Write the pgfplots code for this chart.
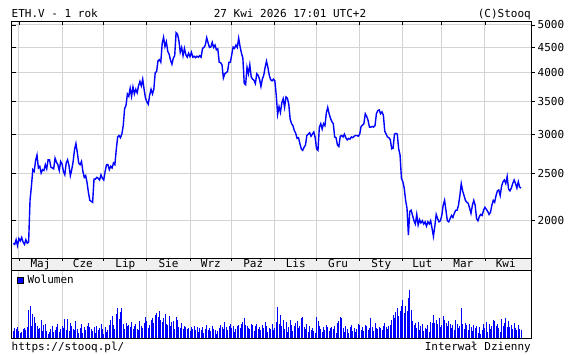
\documentclass[border=0pt]{standalone}
\usepackage{pgfplots}
\pgfplotsset{compat=1.18}
\usepackage{pgfplotstable}
\usepackage{fontspec}
\setmainfont{DejaVu Sans Mono}
\definecolor{gridgray}{RGB}{211,211,211}
\definecolor{stblue}{RGB}{0,0,255}
\definecolor{strip}{RGB}{240,240,240}
\newcommand\fs{\fontsize{11}{13}\selectfont}

\pgfplotstableread[row sep=\\]{d p\\
-4 1800\\ -3 1790\\ -2 1830\\ -1 1780\\ 0 1840\\ 1 1820\\ 2 1850\\ 3 1810\\ 4 1790\\ 5 1830\\ 6 1800\\ 7 1810\\
8 2200\\ 9 2350\\ 10 2540\\ 11 2520\\ 12 2650\\ 13 2720\\ 14 2560\\ 15 2580\\ 16 2500\\ 17 2540\\ 18 2530\\ 19 2600\\
20 2550\\ 21 2660\\ 22 2660\\ 23 2570\\ 24 2560\\ 25 2550\\ 26 2680\\ 27 2630\\ 28 2600\\ 29 2530\\ 30 2640\\ 31 2610\\
32 2520\\ 33 2480\\ 34 2620\\ 35 2660\\ 36 2590\\ 37 2470\\ 38 2540\\ 39 2640\\ 40 2790\\ 41 2870\\ 42 2750\\ 43 2620\\
44 2600\\ 45 2640\\ 46 2520\\ 47 2450\\ 48 2470\\ 49 2390\\ 50 2280\\ 51 2200\\ 52 2190\\ 53 2180\\ 54 2430\\ 55 2430\\
56 2450\\ 57 2440\\ 58 2420\\ 59 2480\\ 60 2440\\ 61 2420\\ 62 2520\\ 63 2600\\ 64 2600\\ 65 2540\\ 66 2580\\ 67 2560\\
68 2620\\ 69 2600\\ 70 2790\\ 71 2960\\ 72 2980\\ 73 2950\\ 74 3000\\ 75 3120\\ 76 3380\\ 77 3430\\ 78 3620\\ 79 3580\\
80 3720\\ 81 3580\\ 82 3740\\ 83 3620\\ 84 3700\\ 85 3640\\ 86 3760\\ 87 3840\\ 88 3760\\ 89 3880\\ 90 3700\\ 91 3550\\
92 3490\\ 93 3450\\ 94 3600\\ 95 3700\\ 96 3620\\ 97 3700\\ 98 4000\\ 99 4020\\ 100 4230\\ 101 4250\\ 102 4200\\ 103 4580\\
104 4720\\ 105 4520\\ 106 4620\\ 107 4420\\ 108 4360\\ 109 4240\\ 110 4160\\ 111 4280\\ 112 4330\\ 113 4820\\ 114 4790\\
115 4650\\ 116 4400\\ 117 4500\\ 118 4330\\ 119 4480\\ 120 4350\\ 121 4300\\ 122 4380\\ 123 4310\\ 124 4400\\ 125 4300\\
126 4320\\ 127 4290\\ 128 4320\\ 129 4300\\ 130 4330\\ 131 4300\\ 132 4480\\ 133 4500\\ 134 4550\\ 135 4710\\ 136 4600\\
137 4500\\ 138 4510\\ 139 4610\\ 140 4500\\ 141 4550\\ 142 4450\\ 143 4470\\ 144 4200\\ 145 4190\\ 146 4150\\ 147 3900\\
148 3980\\ 149 4000\\ 150 4020\\ 151 4200\\ 152 4200\\ 153 4350\\ 154 4510\\ 155 4480\\ 156 4550\\ 157 4500\\ 158 4700\\
159 4520\\ 160 4380\\ 161 4280\\ 162 3800\\ 163 3780\\ 164 4100\\ 165 3980\\ 166 4150\\ 167 3920\\ 168 3880\\ 169 3860\\
170 3800\\ 171 3980\\ 172 3950\\ 173 3880\\ 174 3750\\ 175 3880\\ 176 3950\\ 177 4100\\ 178 4220\\ 179 4100\\ 180 3950\\
181 3870\\ 182 3850\\ 183 3880\\ 184 3850\\ 185 3600\\ 186 3290\\ 187 3410\\ 188 3320\\ 189 3470\\ 190 3540\\ 191 3400\\
192 3570\\ 193 3550\\ 194 3450\\ 195 3220\\ 196 3150\\ 197 3120\\ 198 3050\\ 199 3010\\ 200 2940\\ 201 2950\\ 202 2870\\
203 2800\\ 204 2780\\ 205 2820\\ 206 2850\\ 207 2980\\ 208 3000\\ 209 3020\\ 210 2970\\ 211 3000\\ 212 3030\\ 213 2950\\
214 2800\\ 215 2780\\ 216 3100\\ 217 3150\\ 218 3070\\ 219 3150\\ 220 3120\\ 221 3310\\ 222 3400\\ 223 3300\\ 224 3230\\
225 3180\\ 226 3150\\ 227 2960\\ 228 2950\\ 229 2850\\ 230 2830\\ 231 2970\\ 232 2980\\ 233 2960\\ 234 3000\\ 235 2950\\
236 2920\\ 237 2940\\ 238 2930\\ 239 2960\\ 240 2950\\ 241 2970\\ 242 2980\\ 243 2980\\ 244 2970\\ 245 3000\\ 246 3110\\
247 3130\\ 248 3150\\ 249 3300\\ 250 3260\\ 251 3200\\ 252 3100\\ 253 3100\\ 254 3110\\ 255 3100\\ 256 3120\\ 257 3300\\
258 3350\\ 259 3360\\ 260 3300\\ 261 3330\\ 262 3280\\ 263 3040\\ 264 3000\\ 265 2960\\ 266 2950\\ 267 2920\\ 268 2800\\
269 2810\\ 270 3000\\ 271 3010\\ 272 3000\\ 273 2800\\ 274 2720\\ 275 2440\\ 276 2400\\ 277 2330\\ 278 2200\\ 279 2120\\
280 1870\\ 281 2090\\ 282 2100\\ 283 2050\\ 284 2000\\ 285 1970\\ 286 2060\\ 287 1960\\ 288 2010\\ 289 1980\\ 290 2000\\
291 1970\\ 292 1990\\ 293 1950\\ 294 1990\\ 295 1970\\ 296 2000\\ 297 1930\\ 298 1860\\ 299 1950\\ 300 2060\\ 301 2020\\
302 1990\\ 303 2000\\ 304 2050\\ 305 2150\\ 306 2200\\ 307 2100\\ 308 2000\\ 309 1990\\ 310 2020\\ 311 2050\\ 312 2030\\
313 2070\\ 314 2100\\ 315 2100\\ 316 2150\\ 317 2250\\ 318 2380\\ 319 2300\\ 320 2250\\ 321 2200\\ 322 2180\\ 323 2170\\
324 2120\\ 325 2070\\ 326 2150\\ 327 2200\\ 328 2150\\ 329 2020\\ 330 2000\\ 331 2040\\ 332 2060\\ 333 2050\\ 334 2100\\
335 2130\\ 336 2110\\ 337 2090\\ 338 2060\\ 339 2080\\ 340 2150\\ 341 2200\\ 342 2180\\ 343 2250\\ 344 2300\\ 345 2310\\
346 2250\\ 347 2350\\ 348 2400\\ 349 2420\\ 350 2380\\ 351 2460\\ 352 2320\\ 353 2300\\ 354 2330\\ 355 2380\\ 356 2420\\
357 2380\\ 358 2330\\ 359 2400\\ 360 2340\\ 361 2330\\
}\price

\pgfplotstableread[row sep=\\]{d v\\
-4 7\\ -3 10\\ -2 9\\ -1 11\\ 0 7\\ 1 5\\ 2 6\\ 3 9\\ 4 10\\ 5 8\\ 6 11\\ 7 28\\ 8 32\\ 9 12\\ 10 24\\ 11 21\\ 12 15\\
13 12\\ 14 9\\ 15 10\\ 16 18\\ 17 7\\ 18 13\\ 19 14\\ 20 7\\ 21 4\\ 22 6\\ 23 9\\ 24 12\\ 25 6\\ 26 8\\ 27 11\\ 28 14\\
29 6\\ 30 9\\ 31 12\\ 32 10\\ 33 19\\ 34 8\\ 35 19\\ 36 7\\ 37 15\\ 38 12\\ 39 9\\ 40 8\\ 41 17\\ 42 9\\ 43 5\\ 44 10\\
45 14\\ 46 5\\ 47 11\\ 48 8\\ 49 12\\ 50 15\\ 51 11\\ 52 9\\ 53 7\\ 54 11\\ 55 5\\ 56 12\\ 57 8\\ 58 10\\ 59 14\\ 60 9\\
61 4\\ 62 11\\ 63 6\\ 64 8\\ 65 13\\ 66 18\\ 67 22\\ 68 13\\ 69 9\\ 70 24\\ 71 30\\ 72 19\\ 73 26\\ 74 30\\ 75 14\\ 76 9\\
77 15\\ 78 12\\ 79 13\\ 80 11\\ 81 16\\ 82 9\\ 83 12\\ 84 14\\ 85 9\\ 86 8\\ 87 17\\ 88 12\\ 89 10\\ 90 15\\ 91 21\\ 92 17\\
93 10\\ 94 13\\ 95 18\\ 96 20\\ 97 15\\ 98 23\\ 99 25\\ 100 21\\ 101 27\\ 102 18\\ 103 16\\ 104 20\\ 105 24\\ 106 14\\
107 13\\ 108 22\\ 109 12\\ 110 16\\ 111 17\\ 112 9\\ 113 21\\ 114 18\\ 115 11\\ 116 10\\ 117 15\\ 118 9\\ 119 12\\ 120 11\\
121 9\\ 122 10\\ 123 7\\ 124 11\\ 125 9\\ 126 12\\ 127 8\\ 128 11\\ 129 6\\ 130 10\\ 131 8\\ 132 11\\ 133 5\\ 134 9\\
135 13\\ 136 8\\ 137 10\\ 138 7\\ 139 12\\ 140 9\\ 141 8\\ 142 4\\ 143 7\\ 144 10\\ 145 13\\ 146 11\\ 147 9\\ 148 16\\
149 11\\ 150 8\\ 151 12\\ 152 14\\ 153 10\\ 154 12\\ 155 6\\ 156 9\\ 157 12\\ 158 13\\ 159 10\\ 160 14\\ 161 16\\ 162 20\\
163 13\\ 164 12\\ 165 10\\ 166 9\\ 167 14\\ 168 13\\ 169 7\\ 170 12\\ 171 14\\ 172 9\\ 173 11\\ 174 8\\ 175 13\\ 176 10\\
177 16\\ 178 12\\ 179 6\\ 180 10\\ 181 9\\ 182 14\\ 183 8\\ 184 10\\ 185 16\\ 186 31\\ 187 14\\ 188 23\\ 189 12\\ 190 18\\
191 9\\ 192 16\\ 193 6\\ 194 11\\ 195 18\\ 196 13\\ 197 7\\ 198 12\\ 199 15\\ 200 17\\ 201 10\\ 202 12\\ 203 20\\ 204 21\\
205 11\\ 206 9\\ 207 14\\ 208 6\\ 209 12\\ 210 8\\ 211 10\\ 212 7\\ 213 5\\ 214 21\\ 215 17\\ 216 12\\ 217 9\\ 218 6\\
219 11\\ 220 8\\ 221 13\\ 222 11\\ 223 7\\ 224 10\\ 225 11\\ 226 9\\ 227 12\\ 228 5\\ 229 15\\ 230 17\\ 231 21\\ 232 20\\
233 10\\ 234 6\\ 235 12\\ 236 9\\ 237 5\\ 238 11\\ 239 13\\ 240 7\\ 241 10\\ 242 6\\ 243 9\\ 244 14\\ 245 13\\ 246 8\\
247 11\\ 248 7\\ 249 13\\ 250 12\\ 251 8\\ 252 10\\ 253 20\\ 254 11\\ 255 7\\ 256 15\\ 257 10\\ 258 9\\ 259 11\\ 260 10\\
261 8\\ 262 12\\ 263 15\\ 264 11\\ 265 9\\ 266 12\\ 267 13\\ 268 18\\ 269 23\\ 270 20\\ 271 26\\ 272 30\\ 273 22\\ 274 27\\
275 32\\ 276 38\\ 277 25\\ 278 32\\ 279 27\\ 280 40\\ 281 48\\ 282 28\\ 283 17\\ 284 13\\ 285 15\\ 286 10\\ 287 16\\ 288 8\\
289 12\\ 290 14\\ 291 7\\ 292 10\\ 293 9\\ 294 13\\ 295 6\\ 296 16\\ 297 15\\ 298 23\\ 299 15\\ 300 18\\ 301 14\\ 302 20\\
303 11\\ 304 13\\ 305 22\\ 306 18\\ 307 15\\ 308 12\\ 309 17\\ 310 14\\ 311 10\\ 312 13\\ 313 8\\ 314 18\\ 315 14\\ 316 10\\
317 12\\ 318 30\\ 319 14\\ 320 9\\ 321 15\\ 322 13\\ 323 8\\ 324 14\\ 325 11\\ 326 7\\ 327 13\\ 328 10\\ 329 12\\ 330 5\\
331 11\\ 332 4\\ 333 8\\ 334 14\\ 335 10\\ 336 16\\ 337 6\\ 338 14\\ 339 9\\ 340 12\\ 341 18\\ 342 17\\ 343 12\\ 344 14\\
345 10\\ 346 6\\ 347 19\\ 348 12\\ 349 15\\ 350 20\\ 351 11\\ 352 17\\ 353 11\\ 354 13\\ 355 9\\ 356 15\\ 357 10\\ 358 8\\
359 13\\ 360 9\\ 361 8\\
}\vol

\begin{document}
\begin{tikzpicture}[x=1pt,y=1pt]
\path[use as bounding box] (0,0) rectangle (569,355);
\fill[strip] (11.5,84.5) rectangle (531.5,97);
\draw[line width=0.9pt] (11.5,84.5) -- (11.5,97) (531.5,84.5) -- (531.5,97);

\begin{axis}[at={(11.5pt,97pt)}, anchor=south west, scale only axis,
  width=520pt, height=236.5pt,
  xmin=-5.32, xmax=368.5, ymode=log, ymin=1680, ymax=5082,
  xtick={0,31,61,92,123,153,184,214,245,276,304,335},
  ytick={2000,2500,3000,3500,4000,4500,5000},
  xticklabel=\empty, yticklabel=\empty,
  grid=major, grid style={gridgray, line width=1pt},
  tick align=inside, xtick pos=top, ytick pos=left,
  major tick length=4pt, tick style={black, line width=0.8pt},
  axis line style={line width=0.9pt}]
\addplot[stblue, line width=1.4pt] table[x=d,y=p]{\price};
\end{axis}

\begin{axis}[at={(11.5pt,97pt)}, anchor=south west, scale only axis,
  width=520pt, height=236.5pt,
  xmin=-5.32, xmax=368.5, ymode=log, ymin=1680, ymax=5082,
  xtick={0,31,61,92,123,153,184,214,245,276,304,335},
  ytick={2000,2500,3000,3500,4000,4500,5000},
  yticklabels={2000,2500,3000,3500,4000,4500,5000},
  xticklabel=\empty,
  tick align=outside, xtick pos=bottom, ytick pos=right,
  major tick length=3pt, tick style={black, line width=0.8pt},
  yticklabel style={font=\fs, anchor=west, inner sep=0pt, xshift=3pt},
  extra x ticks={15.5,46,76.5,107.5,138,168.5,199,229.5,260.5,290,319.5,350},
  extra x tick labels={Maj,Cze,Lip,Sie,Wrz,Paź,Lis,Gru,Sty,Lut,Mar,Kwi},
  extra x tick style={major tick length=0pt, grid=none,
    xticklabel style={font=\fs, anchor=base, inner sep=0pt, yshift=-10pt}},
  axis line style={line width=0.9pt}]
\end{axis}

\begin{axis}[at={(11.5pt,16.5pt)}, anchor=south west, scale only axis,
  width=520pt, height=68pt,
  xmin=-5.32, xmax=368.5, ymin=0, ymax=68,
  xtick={0,31,61,92,123,153,184,214,245,276,304,335},
  ytick=\empty, xticklabel=\empty,
  xmajorgrids, grid style={gridgray, line width=1pt},
  major tick length=0pt,
  axis line style={line width=0.9pt}]
\addplot[ycomb, stblue, line width=0.9pt] table[x=d,y=v]{\vol};
\end{axis}

\draw[black, line width=0.5pt, fill=stblue] (17.3,71.7) rectangle (23.3,77.7);
\node[anchor=base west, inner sep=0pt, font=\fs] at (27.3,71.7) {Wolumen};

\node[anchor=base west, inner sep=0pt, font=\fs] at (11.5,337.6) {ETH.V - 1 rok};
\node[anchor=base, inner sep=0pt, font=\fs] at (290,337.6) {27 Kwi 2026 17:01 UTC+2};
\node[anchor=base east, inner sep=0pt, font=\fs] at (531,337.6) {(C)Stooq};
\node[anchor=base west, inner sep=0pt, font=\fs] at (11.5,4) {https://stooq.pl/};
\node[anchor=base east, inner sep=0pt, font=\fs] at (531,4) {Interwał Dzienny};
\end{tikzpicture}
\end{document}
